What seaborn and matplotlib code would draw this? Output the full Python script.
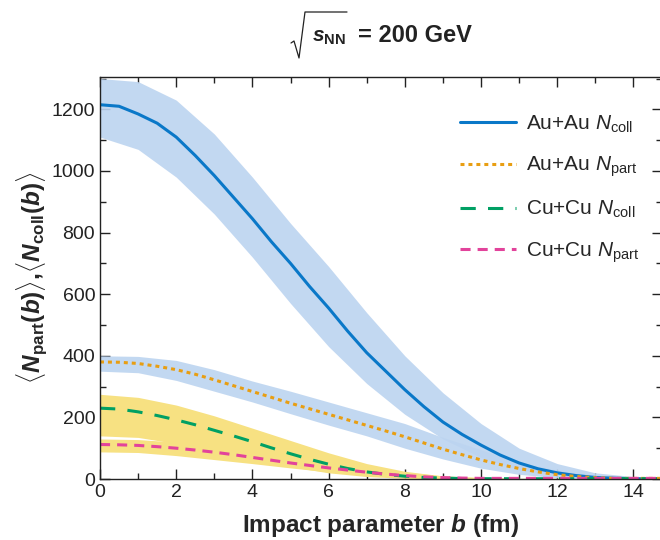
import matplotlib
matplotlib.use("Agg")
import matplotlib.pyplot as plt
import seaborn as sns
import pandas as pd
from matplotlib.lines import Line2D
from matplotlib.ticker import MultipleLocator

# impact parameter grid (fm) the mean curves were read at
b_vals = [0, 0.5, 1, 1.5, 2, 2.5, 3, 3.5, 4, 4.5, 5, 5.5, 6, 6.5, 7, 7.5,
          8, 8.5, 9, 9.5, 10, 10.5, 11, 11.5, 12, 12.5, 13, 13.5, 14, 14.75]
au_ncoll = [1215, 1210, 1185, 1155, 1110, 1050, 985, 915, 845, 770, 700, 625,
            555, 480, 410, 350, 290, 235, 185, 145, 110, 78, 52, 33, 20, 11,
            5, 2.5, 1, 0.5]
au_npart = [380, 379, 375, 366, 355, 340, 322, 303, 284, 265, 246, 228, 210,
            192, 174, 156, 137, 117, 97, 79, 62, 47, 34, 23, 14, 8, 4, 2, 2, 2]
cu_ncoll = [230, 227, 218, 206, 192, 176, 158, 140, 121, 101, 82, 64, 48, 34,
            23, 15, 9, 5, 3, 1.5, 1, 1, 1, 1, 1, 1, 1, 1, 1, 1]
cu_npart = [112, 111, 109, 105, 100, 94, 87, 79, 70, 61, 52, 44, 36, 29, 22,
            16, 11, 7, 4.5, 3, 2, 2, 2, 2, 2, 2, 2, 2, 2, 2]

# event-by-event scatter clouds, read as lower / upper edges
b_band = [0, 1, 2, 3, 4, 5, 6, 7, 8, 9, 10, 11, 12, 13, 14, 14.75]
au_ncoll_lo = [1110, 1070, 980, 860, 720, 570, 430, 310, 210, 130, 70, 30, 10, 2, 0, 0]
au_ncoll_hi = [1300, 1290, 1230, 1120, 980, 830, 690, 540, 400, 280, 180, 100, 50, 20, 8, 4]
au_npart_lo = [350, 345, 320, 285, 250, 212, 175, 140, 100, 65, 35, 15, 4, 0, 0, 0]
au_npart_hi = [400, 398, 385, 355, 318, 285, 250, 215, 180, 135, 95, 55, 28, 12, 5, 3]
cu_ncoll_lo = [140, 135, 115, 90, 62, 40, 20, 8, 2, 0, 0, 0, 0, 0, 0, 0]
cu_ncoll_hi = [275, 265, 240, 205, 165, 125, 85, 50, 25, 10, 4, 2, 2, 2, 2, 2]
cu_npart_lo = [88, 86, 76, 63, 50, 36, 23, 12, 5, 1, 0, 0, 0, 0, 0, 0]
cu_npart_hi = [130, 128, 120, 108, 92, 74, 56, 38, 22, 10, 5, 2, 2, 2, 2, 2]

sns.set_theme(style="ticks")
plt.rcParams['font.family'] = ['Liberation Sans', 'DejaVu Sans']
plt.rcParams['mathtext.fontset'] = 'custom'
plt.rcParams['mathtext.rm'] = 'Liberation Sans'
plt.rcParams['mathtext.it'] = 'Liberation Sans:italic'
plt.rcParams['mathtext.bf'] = 'Liberation Sans:bold'
try:
    plt.rcParams['mathtext.bfit'] = 'Liberation Sans:bold:italic'
except KeyError:
    pass

W, H = 660, 540
fig = plt.figure(figsize=(W/100, H/100), dpi=100)
ax = fig.add_axes([100/W, 61/H, 562/W, 402/H])

band_blue = '#BCD4F0'
band_yellow = '#F7E182'
ax.fill_between(b_band, cu_ncoll_lo, cu_ncoll_hi, color=band_yellow, lw=0)
ax.fill_between(b_band, cu_npart_lo, cu_npart_hi, color=band_yellow, lw=0)
ax.fill_between(b_band, au_ncoll_lo, au_ncoll_hi, color=band_blue, lw=0, alpha=0.9)
ax.fill_between(b_band, au_npart_lo, au_npart_hi, color=band_blue, lw=0, alpha=0.9)

df = pd.DataFrame({'b': b_vals, 'au_ncoll': au_ncoll, 'au_npart': au_npart,
                   'cu_ncoll': cu_ncoll, 'cu_npart': cu_npart})
series = [
    ('au_ncoll', r'Au+Au $N_{\mathrm{coll}}$', '#0A78C8', '-'),
    ('au_npart', r'Au+Au $N_{\mathrm{part}}$', '#E89E12', (0, (1.3, 1.3))),
    ('cu_ncoll', r'Cu+Cu $N_{\mathrm{coll}}$', '#00A064', (0, (5, 4))),
    ('cu_npart', r'Cu+Cu $N_{\mathrm{part}}$', '#E2439B', (0, (3.3, 2.3))),
]
for col, lab, c, ls in series:
    sns.lineplot(data=df, x='b', y=col, ax=ax, color=c, linewidth=2.2,
                 linestyle=ls, label=lab)

ax.set_xlim(0, 14.75)
ax.set_ylim(0, 1305)
ax.xaxis.set_major_locator(MultipleLocator(2))
ax.xaxis.set_minor_locator(MultipleLocator(1))
ax.yaxis.set_major_locator(MultipleLocator(200))
ax.yaxis.set_minor_locator(MultipleLocator(100))
ax.tick_params(which='both', direction='in', top=True, right=True,
               labelsize=14, colors='#222222', width=1)
ax.tick_params(which='major', length=7)
ax.tick_params(which='minor', length=4)
for s in ax.spines.values():
    s.set_color('#222222')
    s.set_linewidth(1)

ax.set_xlabel(r'Impact parameter $\mathbfit{b}$ (fm)', fontsize=17.5,
              fontweight='bold', labelpad=8)
ax.set_ylabel(r'$\langle\mathbfit{N}_{\mathbf{part}}\mathbf{(}\mathbfit{b}\mathbf{)}\rangle\mathbf{,}'
              r'\langle\mathbfit{N}_{\mathbf{coll}}\mathbf{(}\mathbfit{b}\mathbf{)}\rangle$',
              fontsize=17.5, labelpad=2)

# title: tall thin radical sign, then s_NN and the energy as text
rad_x = [291, 294, 299, 305, 347]
rad_y = [43, 41, 58, 12, 12]
fig.add_artist(Line2D([x / W for x in rad_x], [1 - y / H for y in rad_y],
                      color='#222222', lw=0.9, transform=fig.transFigure))
fig.text(312/W, 1 - 41.5/H, r'$\mathbfit{s}_{\mathbf{NN}}$', fontsize=15,
         ha='left', va='baseline', color='#222222')
fig.text(358/W, 1 - 41.5/H, '= 200 GeV', fontsize=17, fontweight='bold',
         ha='left', va='baseline', color='#222222')

ax.legend(loc='upper right', frameon=False, fontsize=15, handlelength=2.67,
          handletextpad=0.5, labelspacing=0.95, bbox_to_anchor=(0.983, 0.94),
          borderaxespad=0.2)

fig.savefig('out.png', dpi=100)
